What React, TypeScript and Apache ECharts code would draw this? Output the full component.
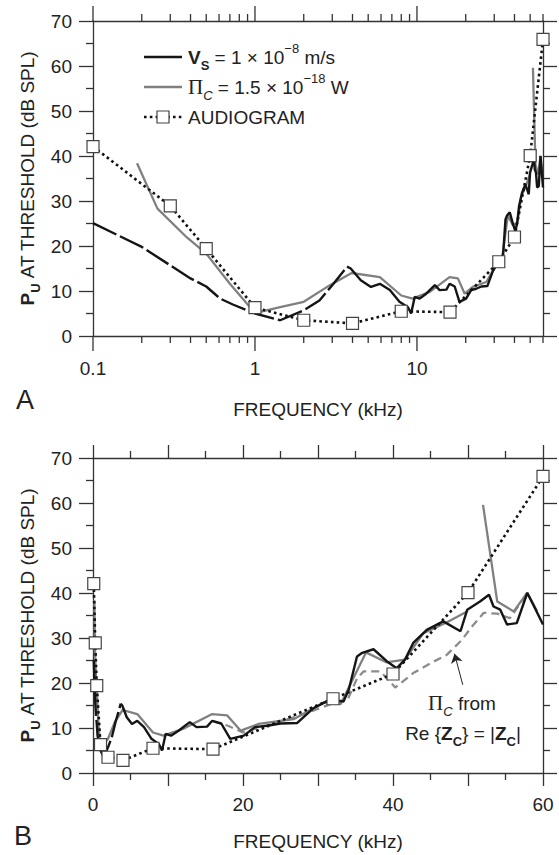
import React, { useEffect, useRef } from 'react';
import * as echarts from 'echarts';

const FONT = '"Liberation Sans", Arial, Helvetica, sans-serif';
const SERIF = '"Liberation Serif", "Times New Roman", serif';
const AXIS = '#333';
const TXT = '#222';

// ---------- data ----------
// Black curve: V_S = 1e-8 m/s (kHz, dB SPL)
const blackFreq = [0.1, 0.2, 0.3, 0.4, 0.5, 0.61, 0.73, 1.0, 1.43, 2.0, 2.5, 3.0, 3.7,
  3.9, 4.5, 5.2, 5.9, 6.8, 7.8, 8.8, 9.2, 9.7, 10.4,
  11.4, 12.9, 13.8, 15.2, 15.9, 17.1, 18.3, 20.1, 21.6, 23.2,
  25.0, 27.2, 29.4, 31.6, 33.4, 34.1, 35.2, 35.9, 37.4, 39.2,
  40.5, 41.6, 42.7, 44.5, 46.7, 49.0, 49.9, 51.6, 52.8, 53.4,
  54.3, 55.2, 56.5, 57.9, 58.7, 60.0];
const blackLevel = [25.1, 19.8, 15.7, 12.8, 11.0, 8.3, 7.0, 5.0, 3.5, 5.7, 7.9, 11.3, 15.4,
  15.0, 12.4, 10.9, 11.6, 10.2, 7.6, 6.4, 5.0, 8.7, 8.3,
  9.4, 11.3, 10.2, 10.3, 11.6, 11.0, 7.6, 8.3, 10.2, 10.5,
  11.0, 11.1, 14.4, 16.3, 15.9, 18.5, 25.9, 26.7, 27.5, 24.8,
  23.3, 25.2, 28.9, 31.8, 33.7, 31.5, 36.3, 38.1, 39.6, 37.0,
  36.3, 33.0, 33.3, 40.0, 37.4, 33.0];
const blackInterpolatedUpTo = 3.7; // kHz, drawn dashed below this

// Grey curve: Pi_C = 1.5e-18 W (null = gap in the trace)
const greyFreq = [0.187, 0.25, 0.38, 0.5, 0.7, 1.0, 1.43, 2.0, 2.9, 3.95, 5.9, 8.0, 9.4,
  12.0, 15.9, 17.9, 19.7, 22.1, 26.8, 30.8, 33.0, 36.4, 39.1, 41.6, 44.0, 47.2, 50.0,
  51.0, 52.0, 53.9, 56.1, 57.9, 59.2];
const greyLevel = [38.4, 28.3, 21.9, 18.3, 11.6, 5.1, 6.4, 7.6, 11.3, 14.0, 13.1, 9.0, 8.3,
  9.8, 13.1, 12.8, 9.4, 10.9, 12.0, 15.7, 15.3, 26.8, 24.6, 25.2, 31.0, 33.5, 36.0,
  null, 59.6, 38.1, 35.9, 40.1, 36.0];

// Grey dashed curve (panel B): Pi_C from Re{Z_C} = |Z_C|
const dashFreq = [16.0, 18.0, 20.0, 24.0, 28.0, 32.0, 34.0, 35.2, 36.1, 38.3, 39.4, 40.3,
  42.7, 45.0, 47.2, 49.2, 50.5, 52.1, 53.9, 55.6, 57.0, 57.9];
const dashLevel = [11.5, 10.5, 9.0, 11.0, 13.0, 15.5, 16.5, 21.0, 22.6, 22.6, 20.7, 19.0,
  22.2, 24.4, 26.3, 29.6, 32.5, 35.6, 35.4, 34.4, 37.8, 40.0];

// Audiogram
const audioFreq = [0.1, 0.3, 0.5, 1, 2, 4, 8, 16, 32, 40, 50, 60];
const audioLevel = [42.1, 28.9, 19.4, 6.3, 3.5, 2.8, 5.5, 5.3, 16.5, 22.0, 40.1, 65.9];

// Log-axis ticks (panel A)
const logMajorTicks = [0.1, 1, 10];
const logMinorTicks = [0.2, 0.3, 0.4, 0.5, 0.6, 0.7, 0.8, 0.9, 2, 3, 4, 5, 6, 7, 8, 9, 20, 30, 40, 50, 60];

// Arrow (panel B annotation) in data coordinates
const arrowFrom = [49.3, 19.6];
const arrowTo = [48.2, 26.5];

const pairs = (xs: number[], ys: (number | null)[]) => xs.map((x, i) => [x, ys[i]]);

export default function App() {
  const ref = useRef<HTMLDivElement>(null);
  useEffect(() => {
    const chart = echarts.init(ref.current!, null, { renderer: 'svg' });

    const black = pairs(blackFreq, blackLevel);
    const blackDashed = black.filter((p) => (p[0] as number) <= blackInterpolatedUpTo);
    const blackSolid = black.filter((p) => (p[0] as number) >= blackInterpolatedUpTo);
    const grey = pairs(greyFreq, greyLevel);
    const dashed = pairs(dashFreq, dashLevel);
    const audio = pairs(audioFreq, audioLevel);

    const axisLine = { show: true, onZero: false, lineStyle: { color: AXIS, width: 1.3 } };
    const tickStyle = { color: AXIS, width: 1.3 };
    const labelStyle = { fontSize: 19, color: TXT, fontFamily: FONT };

    const yAxisFor = (gridIndex: number, pos: 'left' | 'right') => ({
      type: 'value', gridIndex, position: pos, min: 0, max: 70, interval: 10,
      axisLine,
      axisTick: { show: true, length: 14, lineStyle: tickStyle },
      minorTick: { show: true, splitNumber: 2, length: 7, lineStyle: tickStyle },
      splitLine: { show: false },
      axisLabel: pos === 'left' ? { ...labelStyle, margin: 21 } : { show: false },
    });

    const logFmt = (v: number) => {
      const l = Math.log10(v);
      if (Math.abs(l - Math.round(l)) > 1e-6) return '';
      return String(Number(v.toPrecision(3)));
    };

    const linX = (pos: 'bottom' | 'top') => ({
      type: 'value', gridIndex: 1, position: pos, min: 0, max: 60, interval: 10,
      axisLine,
      axisTick: { show: true, length: 13, lineStyle: tickStyle },
      minorTick: { show: true, splitNumber: 2, length: 7, lineStyle: tickStyle },
      splitLine: { show: false },
      axisLabel: pos === 'bottom'
        ? { ...labelStyle, margin: 22, formatter: (v: number) => (v % 20 === 0 ? String(v) : '') }
        : { show: false },
    });

    const logX = (pos: 'bottom' | 'top') => ({
      type: 'log', logBase: 10, gridIndex: 0, position: pos, min: 0.1, max: 60,
      axisLine,
      axisTick: { show: false },
      splitLine: { show: false },
      axisLabel: pos === 'bottom'
        ? { ...labelStyle, margin: 23, formatter: logFmt, showMaxLabel: false }
        : { show: false },
    });

    const lineSeries = (name: string, data: any[], xi: number, yi: number, style: any, z = 3) => ({
      name, type: 'line', data, xAxisIndex: xi, yAxisIndex: yi, showSymbol: false, symbol: 'none',
      lineStyle: style, z, silent: true, clip: true, connectNulls: false,
    });

    const blackDashStyle = { color: '#151515', width: 2.4, type: [26, 4] };
    const blackSolidStyle = { color: '#151515', width: 2.4, type: 'solid' };
    const greyStyle = { color: '#808080', width: 2.3, type: 'solid' };
    const greyDashStyle = { color: '#8c8c8c', width: 2.3, type: [8, 5] };

    const audioSeries = (xi: number, yi: number) => ({
      name: 'AUDIOGRAM', type: 'line', data: audio, xAxisIndex: xi, yAxisIndex: yi,
      symbol: 'rect', symbolSize: 12, showSymbol: true,
      itemStyle: { color: '#fff', borderColor: '#444', borderWidth: 1.2 },
      lineStyle: { color: '#111', width: 2.6, type: [2.6, 3.2] },
      z: 5, silent: true,
    });

    const tickData = [...logMajorTicks.map((v) => [v, 1]), ...logMinorTicks.map((v) => [v, 0])];

    const sub = (extra: any = {}) => ({ fontSize: 13, fontFamily: FONT, color: TXT, verticalAlign: 'bottom', ...extra });
    const sup = { fontSize: 13, fontFamily: FONT, color: TXT, verticalAlign: 'top' };
    const n = { fontSize: 19, fontFamily: FONT, color: TXT, lineHeight: 30 };
    const richBase = {
      n, sup,
      vb: { ...n, fontWeight: 'bold' },
      sb: sub({ fontWeight: 'bold' }),
      pi: { ...n, fontFamily: SERIF, fontSize: 21 },
      ci: sub({ fontStyle: 'italic' }),
      zb: { ...n, fontWeight: 'bold' },
      cb: sub({ fontWeight: 'bold' }),
      pb: { ...n, fontWeight: 'bold' },
      ub: sub({ fontWeight: 'bold' }),
    };
    const rtext = (x: number, y: number, text: string, align = 'left', rotation = 0) => ({
      type: 'text', x, y, rotation, silent: true,
      style: { text, rich: richBase, align, verticalAlign: 'middle', fontSize: 19, fontFamily: FONT, fill: TXT, lineHeight: 30 },
    });

    const legendX1 = 144, legendX2 = 182, rowY = [57, 87, 117];

    const option: any = {
      animation: false,
      backgroundColor: '#fff',
      grid: [
        { left: 93, top: 21, width: 450, height: 315 },
        { left: 93, top: 458, width: 450, height: 315 },
      ],
      xAxis: [logX('bottom'), logX('top'), linX('bottom'), linX('top')],
      yAxis: [yAxisFor(0, 'left'), yAxisFor(0, 'right'), yAxisFor(1, 'left'), yAxisFor(1, 'right')],
      series: [
        // Panel A
        lineSeries('Pi_C', grey, 0, 0, greyStyle, 3),
        lineSeries('V_S interp', blackDashed, 0, 0, blackDashStyle, 4),
        lineSeries('V_S', blackSolid, 0, 0, blackSolidStyle, 4),
        audioSeries(0, 0),
        {
          type: 'custom', xAxisIndex: 0, yAxisIndex: 0, clip: false, silent: true, z: 6,
          data: tickData,
          renderItem: (params: any, api: any) => {
            const f = api.value(0);
            const len = api.value(1) ? 15 : 7;
            const b = api.coord([f, 0]);
            const t = api.coord([f, 70]);
            const st = { stroke: AXIS, lineWidth: 1.3 };
            return {
              type: 'group',
              children: [
                { type: 'line', shape: { x1: b[0], y1: b[1], x2: b[0], y2: b[1] + len }, style: st },
                { type: 'line', shape: { x1: t[0], y1: t[1], x2: t[0], y2: t[1] - len }, style: st },
              ],
            };
          },
        },
        // Panel B
        {
          ...lineSeries('Pi_C from Re', dashed, 2, 2, greyDashStyle, 2),
          markLine: {
            silent: true, symbol: ['none', 'arrow'], symbolSize: 9, animation: false,
            label: { show: false },
            lineStyle: { color: '#222', width: 1, type: 'solid' },
            data: [[{ coord: arrowFrom }, { coord: arrowTo }]],
          },
        },
        lineSeries('Pi_C B', grey, 2, 2, greyStyle, 3),
        lineSeries('V_S interp B', blackDashed, 2, 2, blackDashStyle, 4),
        lineSeries('V_S B', blackSolid, 2, 2, blackSolidStyle, 4),
        audioSeries(2, 2),
      ],
      graphic: [
        // legend
        { type: 'line', silent: true, shape: { x1: legendX1, y1: rowY[0], x2: legendX2, y2: rowY[0] }, style: { stroke: '#151515', lineWidth: 2.4 } },
        { type: 'line', silent: true, shape: { x1: legendX1, y1: rowY[1], x2: legendX2, y2: rowY[1] }, style: { stroke: '#808080', lineWidth: 2.3 } },
        { type: 'line', silent: true, shape: { x1: legendX1, y1: rowY[2], x2: legendX2, y2: rowY[2] }, style: { stroke: '#111', lineWidth: 2.6, lineDash: [2.6, 3.2] } },
        { type: 'rect', silent: true, shape: { x: (legendX1 + legendX2) / 2 - 6, y: rowY[2] - 6, width: 12, height: 12 }, style: { fill: '#fff', stroke: '#444', lineWidth: 1.2 } },
        rtext(188, rowY[0], '{vb|V}{sb|S}{n| = 1 × 10}{sup|−8}{n| m/s}'),
        rtext(188, rowY[1], '{pi|Π}{ci|C}{n| = 1.5 × 10}{sup|−18}{n| W}'),
        rtext(188, rowY[2], '{n|AUDIOGRAM}'),
        // axis names
        rtext(27, 178, '{pb|P}{ub|U}{n| AT THRESHOLD (dB SPL)}', 'center', Math.PI / 2),
        rtext(27, 615, '{pb|P}{ub|U}{n| AT THRESHOLD (dB SPL)}', 'center', Math.PI / 2),
        rtext(318, 409, '{n|FREQUENCY (kHz)}', 'center'),
        rtext(318, 841, '{n|FREQUENCY (kHz)}', 'center'),
        // panel letters
        { type: 'text', x: 25, y: 400, silent: true, style: { text: 'A', fontSize: 27, fontFamily: FONT, fill: TXT, align: 'center', verticalAlign: 'middle' } },
        { type: 'text', x: 23, y: 836, silent: true, style: { text: 'B', fontSize: 27, fontFamily: FONT, fill: TXT, align: 'center', verticalAlign: 'middle' } },
        // annotation
        rtext(462, 703, '{pi|Π}{ci|C}{n| from}', 'center'),
        rtext(463, 733, '{n|Re {}{zb|Z}{cb|C}} = |{zb|Z}{cb|C}{n||}', 'center'),
      ],
    };

    chart.setOption(option);
    return () => chart.dispose();
  }, []);

  return <div ref={ref} style={{ position: 'fixed', left: 0, top: 0, width: 559, height: 855, background: '#fff' }} />;
}
